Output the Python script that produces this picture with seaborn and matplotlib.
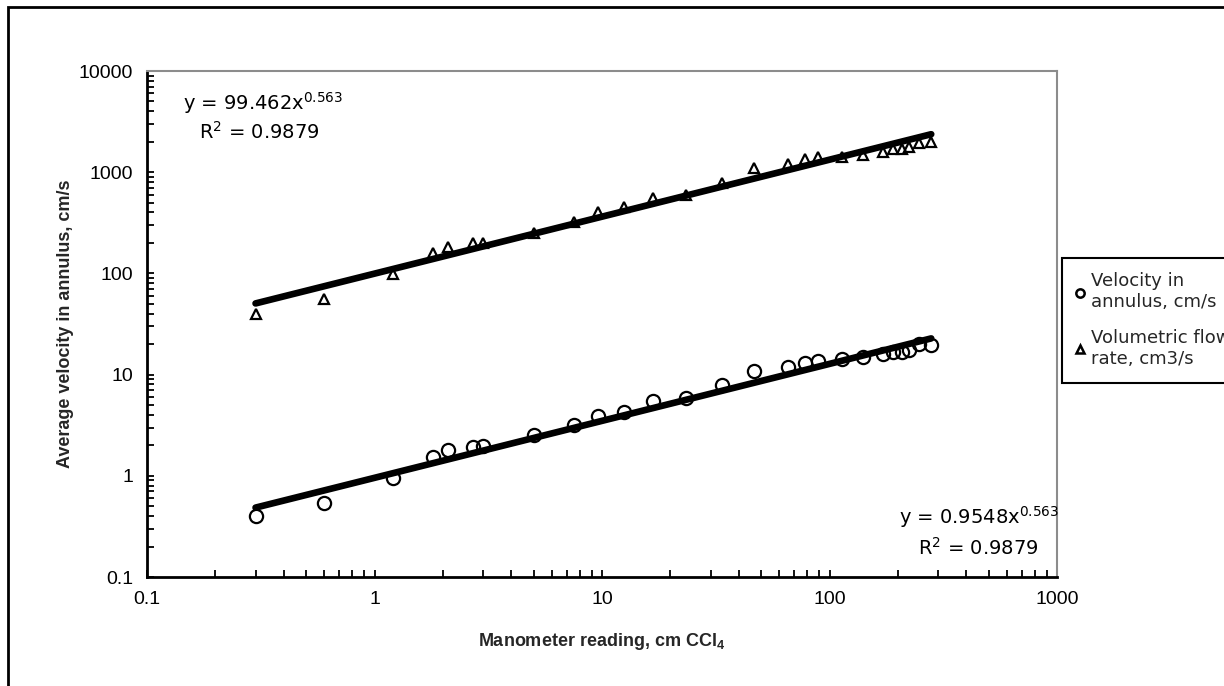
import numpy as np
import pandas as pd
import matplotlib
matplotlib.use("Agg")
import matplotlib.pyplot as plt
import seaborn as sns
from matplotlib.lines import Line2D
from matplotlib.patches import Rectangle
from matplotlib.ticker import FixedLocator, LogLocator, NullFormatter

# ---------------- data ----------------
manometer_cm = [0.3, 0.6, 1.2, 1.8, 2.1, 2.7, 3.0, 5.0, 7.5, 9.6, 12.5, 16.7, 23.4,
                33.7, 46.7, 65.5, 78, 89, 114, 141, 172, 191, 209, 224, 247, 280]
flow_rate_cm3s = [40, 55.5, 99.4, 158, 181, 201, 198, 249, 324, 400, 456, 552, 595,
                  787, 1109, 1210, 1340, 1403, 1400, 1479, 1575, 1700, 1700, 1786, 1960, 1980]
velocity_cms = [0.40, 0.543, 0.957, 1.52, 1.79, 1.91, 1.98, 2.53, 3.15, 3.93, 4.30, 5.49, 5.91,
                7.89, 10.9, 12.0, 12.9, 13.7, 14.3, 14.9, 15.9, 16.8, 16.9, 17.6, 20.0, 19.6]

series_names = ["Velocity in\nannulus, cm/s", "Volumetric flow\nrate, cm3/s"]
fit_coef_velocity = (0.9548, 0.563)
fit_coef_flow = (99.462, 0.563)
r_squared = 0.9879

x_ticks = [0.1, 1, 10, 100, 1000]
x_tick_labels = ["0.1", "1", "10", "100", "1000"]
y_ticks = [0.1, 1, 10, 100, 1000, 10000]
y_tick_labels = ["0.1", "1", "10", "100", "1000", "10000"]

x_label = "Manometer reading, cm CCl$_{\\mathbf{4}}$"
y_label = "Average velocity in annulus, cm/s"

# ---------------- style ----------------
sns.set_theme(style="white")
plt.rcParams["font.family"] = ["Liberation Sans", "DejaVu Sans"]
plt.rcParams["mathtext.fontset"] = "custom"
plt.rcParams["mathtext.rm"] = "DejaVu Sans"
plt.rcParams["mathtext.it"] = "DejaVu Sans"
plt.rcParams["mathtext.bf"] = "Liberation Sans:bold"

W, H = 1224, 686
fig = plt.figure(figsize=(W / 100, H / 100), dpi=100)
ax = fig.add_axes([147 / W, 1 - 577 / H, (1057 - 147) / W, (577 - 71) / H])

df = pd.DataFrame({"x": manometer_cm, "vel": velocity_cms, "flow": flow_rate_cm3s})
xs = np.array(sorted(manometer_cm))
fit_df = pd.DataFrame({
    "x": xs,
    "vel_fit": fit_coef_velocity[0] * xs ** fit_coef_velocity[1],
    "flow_fit": fit_coef_flow[0] * xs ** fit_coef_flow[1],
})

# data points
sns.lineplot(data=df, x="x", y="vel", ax=ax, linestyle="none", marker="o",
             markersize=9.5, markerfacecolor="none", markeredgecolor="black",
             markeredgewidth=1.6, color="black", sort=False, errorbar=None)
sns.lineplot(data=df, x="x", y="flow", ax=ax, linestyle="none", marker="^",
             markersize=7.5, markerfacecolor="none", markeredgecolor="black",
             markeredgewidth=1.6, color="black", sort=False, errorbar=None)
# trend lines
sns.lineplot(data=fit_df, x="x", y="vel_fit", ax=ax, color="black", linewidth=4.8,
             errorbar=None, solid_capstyle="round")
sns.lineplot(data=fit_df, x="x", y="flow_fit", ax=ax, color="black", linewidth=4.8,
             errorbar=None, solid_capstyle="round")

ax.set_xscale("log")
ax.set_yscale("log")
ax.set_xlim(0.1, 1000)
ax.set_ylim(0.1, 10000)
ax.xaxis.set_major_locator(FixedLocator(x_ticks))
ax.set_xticklabels(x_tick_labels)
ax.yaxis.set_major_locator(FixedLocator(y_ticks))
ax.set_yticklabels(y_tick_labels)
ax.xaxis.set_minor_locator(LogLocator(base=10, subs=np.arange(2, 10)))
ax.yaxis.set_minor_locator(LogLocator(base=10, subs=np.arange(2, 10)))
ax.xaxis.set_minor_formatter(NullFormatter())
ax.yaxis.set_minor_formatter(NullFormatter())
ax.tick_params(which="both", direction="in", length=5, width=1.3, color="black",
               bottom=True, left=True, top=False, right=False)
ax.tick_params(which="major", labelsize=14, pad=10, labelcolor="black")

for s in ["left", "bottom"]:
    ax.spines[s].set_color("black")
    ax.spines[s].set_linewidth(2)
for s in ["top", "right"]:
    ax.spines[s].set_color("#8c8c8c")
    ax.spines[s].set_linewidth(1.5)

ax.set_xlabel("")
ax.set_ylabel("")
fig.text(602 / W, 1 - 642 / H, x_label, ha="center", va="center",
         fontsize=13, fontweight="bold")
fig.text(66 / W, 1 - 324 / H, y_label, ha="center", va="center",
         rotation=90, fontsize=13, fontweight="bold")

# equations
eq_font = dict(fontsize=14, family="DejaVu Sans", color="black")
fig.text(183 / W, 1 - 103 / H,
         f"y = {fit_coef_flow[0]}x$^{{{fit_coef_flow[1]}}}$", ha="left", va="center", **eq_font)
fig.text(199 / W, 1 - 132 / H,
         f"R$^{{2}}$ = {r_squared}", ha="left", va="center", **eq_font)
fig.text(899 / W, 1 - 517 / H,
         f"y = {fit_coef_velocity[0]}x$^{{{fit_coef_velocity[1]}}}$", ha="left", va="center", **eq_font)
fig.text(918 / W, 1 - 548 / H,
         f"R$^{{2}}$ = {r_squared}", ha="left", va="center", **eq_font)

# legend
handles = [
    Line2D([], [], linestyle="none", marker="o", markersize=6, markerfacecolor="none",
           markeredgecolor="black", markeredgewidth=1.8),
    Line2D([], [], linestyle="none", marker="^", markersize=6, markerfacecolor="none",
           markeredgecolor="black", markeredgewidth=1.8),
]
leg = fig.legend(handles, series_names, loc="upper left",
                 bbox_to_anchor=(1062 / W, 1 - 258 / H), frameon=True, fancybox=False,
                 shadow=False, edgecolor="black", framealpha=1,
                 prop={"family": "DejaVu Sans", "size": 13},
                 handlelength=0.4, handletextpad=0.4, borderpad=0.8,
                 labelspacing=1.0, borderaxespad=0)
leg.get_frame().set_linewidth(1.5)

# outer chart frame
fig.add_artist(Rectangle((8 / W, -10 / H), (1300 - 8) / W, (679 + 10) / H,
                         transform=fig.transFigure, fill=False, edgecolor="black",
                         linewidth=2, clip_on=False))

fig.savefig("out.png", dpi=100)
